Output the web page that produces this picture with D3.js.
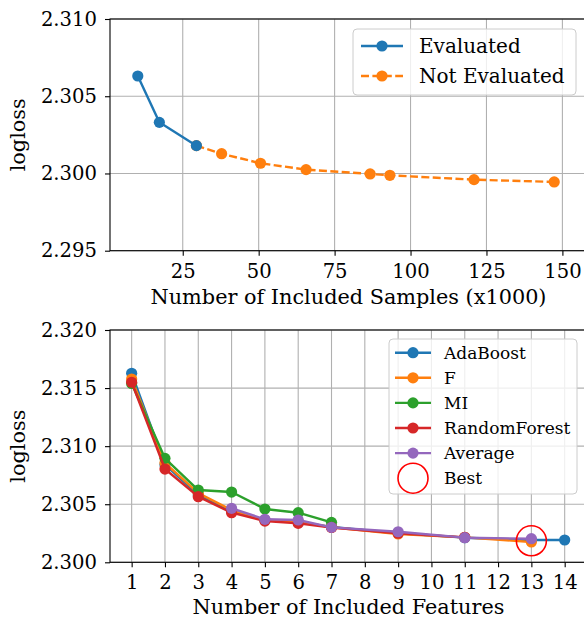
<!DOCTYPE html>
<html>
<head>
<meta charset="utf-8">
<script src="https://cdn.jsdelivr.net/npm/d3@7/dist/d3.min.js"></script>
<style>
  html, body { margin: 0; padding: 0; background: #fff; }
  svg { display: block; }
  text { font-family: "DejaVu Serif", serif; fill: #000; }
</style>
</head>
<body>
<svg id="chart" width="584" height="618"></svg>
<script>
// ---------- data: top panel ----------
const evalX = [10.2, 17.3, 29.5];
const evalY = [2.30631, 2.30331, 2.30180];
const notEvalX = [29.5, 37.8, 50.6, 65.6, 86.7, 93.2, 120.9, 147.3];
const notEvalY = [2.30180, 2.30128, 2.30066, 2.30025, 2.29997, 2.29988, 2.29960, 2.29945];
const topXTicks = [25, 50, 75, 100, 125, 150];
const topYTicks = [2.295, 2.300, 2.305, 2.310];
const topXLim = [1.05, 158.1];
const topYLim = [2.295, 2.310];

// ---------- data: bottom panel ----------
const adaX = [1, 2, 3, 4, 5, 6, 7, 9, 11, 13, 14];
const adaY = [2.31627, 2.30840, 2.30580, 2.30440, 2.30362, 2.30345, 2.30305, 2.30250, 2.30212, 2.30192, 2.30192];
const fX = [1, 2, 3, 4, 5, 6, 7, 9, 11, 13];
const fY = [2.31578, 2.30855, 2.30595, 2.30450, 2.30365, 2.30350, 2.30302, 2.30244, 2.30215, 2.30175];
const miX = [1, 2, 3, 4, 5, 6, 7];
const miY = [2.31540, 2.30895, 2.30622, 2.30605, 2.30459, 2.30427, 2.30344];
const rfX = [1, 2, 3, 4, 5, 6, 7, 9, 11];
const rfY = [2.31550, 2.30803, 2.30565, 2.30427, 2.30355, 2.30335, 2.30300, 2.30250, 2.30215];
const avgX = [4, 5, 6, 7, 9, 11, 13];
const avgY = [2.30465, 2.30370, 2.30364, 2.30301, 2.30263, 2.30212, 2.30203];
const bestX = [13];
const bestY = [2.30185];
const botXTicks = [1, 2, 3, 4, 5, 6, 7, 8, 9, 10, 11, 12, 13, 14];
const botYTicks = [2.300, 2.305, 2.310, 2.315, 2.320];
const botXLim = [0.35, 14.67];
const botYLim = [2.300, 2.320];

const C = { blue: "#1f77b4", orange: "#ff7f0e", green: "#2ca02c", red: "#d62728", purple: "#9467bd" };

const svg = d3.select("#chart");
const FS_TICK = 19.6;
const FS_LABEL = 20.8;
const LW = 2.4;
const MR = 5.6;

function panel(box, xLim, yLim, xTicks, yTicks, xLabel, yFmt, xFmt, labelOffset) {
  const x = d3.scaleLinear().domain(xLim).range([box.left, box.right]);
  const y = d3.scaleLinear().domain(yLim).range([box.bottom, box.top]);
  const g = svg.append("g");
  // grid
  g.append("g").selectAll("line").data(xTicks).join("line")
    .attr("x1", d => x(d)).attr("x2", d => x(d))
    .attr("y1", box.top).attr("y2", box.bottom)
    .attr("stroke", "#b0b0b0").attr("stroke-width", 1.1);
  g.append("g").selectAll("line").data(yTicks).join("line")
    .attr("y1", d => y(d)).attr("y2", d => y(d))
    .attr("x1", box.left).attr("x2", box.right)
    .attr("stroke", "#b0b0b0").attr("stroke-width", 1.1);
  // axes
  const xAxis = d3.axisBottom(x).tickValues(xTicks).tickSize(5).tickPadding(8).tickFormat(xFmt);
  const yAxis = d3.axisLeft(y).tickValues(yTicks).tickSize(5).tickPadding(8).tickFormat(yFmt);
  const gx = g.append("g").attr("transform", `translate(0,${box.bottom})`).call(xAxis);
  const gy = g.append("g").attr("transform", `translate(${box.left},0)`).call(yAxis);
  [gx, gy].forEach(a => {
    a.select(".domain").remove();
    a.selectAll(".tick line").attr("stroke", "#000").attr("stroke-width", 1.1);
    a.selectAll(".tick text").attr("font-family", "DejaVu Serif").attr("font-size", FS_TICK).attr("fill", "#000");
  });
  // frame
  g.append("rect").attr("x", box.left).attr("y", box.top)
    .attr("width", box.right - box.left).attr("height", box.bottom - box.top)
    .attr("fill", "none").attr("stroke", "#000").attr("stroke-width", 1.1);
  // labels
  g.append("text").attr("x", (box.left + box.right) / 2).attr("y", box.bottom + labelOffset)
    .attr("text-anchor", "middle").attr("font-size", FS_LABEL).text(xLabel);
  g.append("text").attr("transform", `translate(25,${(box.top + box.bottom) / 2}) rotate(-90)`)
    .attr("text-anchor", "middle").attr("font-size", FS_LABEL).text("logloss");
  const plot = svg.append("g");
  return { x, y, g, plot };
}

function series(p, xs, ys, color, dash, r) {
  const pts = xs.map((v, i) => [v, ys[i]]);
  const line = d3.line().x(d => p.x(d[0])).y(d => p.y(d[1]));
  p.plot.append("path").datum(pts).attr("d", line)
    .attr("fill", "none").attr("stroke", color).attr("stroke-width", LW)
    .attr("stroke-dasharray", dash || null).attr("stroke-linejoin", "round");
  p.plot.append("g").selectAll("circle").data(pts).join("circle")
    .attr("cx", d => p.x(d[0])).attr("cy", d => p.y(d[1])).attr("r", r)
    .attr("fill", color);
}

// ---------- top panel ----------
const topPanel = panel({ left: 110, right: 587, top: 19, bottom: 250.7 }, topXLim, topYLim,
  topXTicks, topYTicks, "Number of Included Samples (x1000)", d3.format(".3f"), d3.format("d"), 53);
series(topPanel, notEvalX, notEvalY, C.orange, "8,3.4", MR);
series(topPanel, evalX, evalY, C.blue, null, MR);

// top legend
(function () {
  const lg = svg.append("g");
  lg.append("rect").attr("x", 353).attr("y", 29).attr("width", 223).attr("height", 66)
    .attr("rx", 4).attr("fill", "#fff").attr("fill-opacity", 0.8)
    .attr("stroke", "#cccccc").attr("stroke-width", 1);
  const items = [
    { label: "Evaluated", color: C.blue, dash: null },
    { label: "Not Evaluated", color: C.orange, dash: "8,3.4" }
  ];
  items.forEach((it, i) => {
    const cy = 46 + i * 30;
    lg.append("line").attr("x1", 361).attr("x2", 403).attr("y1", cy).attr("y2", cy)
      .attr("stroke", it.color).attr("stroke-width", LW).attr("stroke-dasharray", it.dash);
    lg.append("circle").attr("cx", 382).attr("cy", cy).attr("r", MR).attr("fill", it.color);
    lg.append("text").attr("x", 419).attr("y", cy + 7).attr("font-size", 20).text(it.label);
  });
})();

// ---------- bottom panel ----------
const botPanel = panel({ left: 110, right: 587, top: 330, bottom: 562.3 }, botXLim, botYLim,
  botXTicks, botYTicks, "Number of Included Features", d3.format(".3f"), d3.format("d"), 51.5);
series(botPanel, adaX, adaY, C.blue, null, MR);
series(botPanel, fX, fY, C.orange, null, MR);
series(botPanel, miX, miY, C.green, null, MR);
series(botPanel, rfX, rfY, C.red, null, MR);
series(botPanel, avgX, avgY, C.purple, null, MR);
botPanel.plot.append("g").selectAll("circle").data(bestX.map((v, i) => [v, bestY[i]])).join("circle")
  .attr("cx", d => botPanel.x(d[0])).attr("cy", d => botPanel.y(d[1])).attr("r", 15)
  .attr("fill", "none").attr("stroke", "red").attr("stroke-width", 1.6);

// bottom legend
(function () {
  const lg = svg.append("g");
  lg.append("rect").attr("x", 389).attr("y", 339).attr("width", 188).attr("height", 155)
    .attr("rx", 4).attr("fill", "#fff").attr("fill-opacity", 0.8)
    .attr("stroke", "#cccccc").attr("stroke-width", 1);
  const items = [
    { label: "AdaBoost", color: C.blue },
    { label: "F", color: C.orange },
    { label: "MI", color: C.green },
    { label: "RandomForest", color: C.red },
    { label: "Average", color: C.purple },
    { label: "Best", color: "red", best: true }
  ];
  items.forEach((it, i) => {
    const cy = 352.7 + i * 25.1;
    if (it.best) {
      lg.append("circle").attr("cx", 413).attr("cy", cy).attr("r", 15)
        .attr("fill", "none").attr("stroke", it.color).attr("stroke-width", 1.6);
    } else {
      lg.append("line").attr("x1", 395).attr("x2", 431).attr("y1", cy).attr("y2", cy)
        .attr("stroke", it.color).attr("stroke-width", LW);
      lg.append("circle").attr("cx", 413).attr("cy", cy).attr("r", MR).attr("fill", it.color);
    }
    lg.append("text").attr("x", 444).attr("y", cy + 6).attr("font-size", 17).text(it.label);
  });
})();
</script>
</body>
</html>
